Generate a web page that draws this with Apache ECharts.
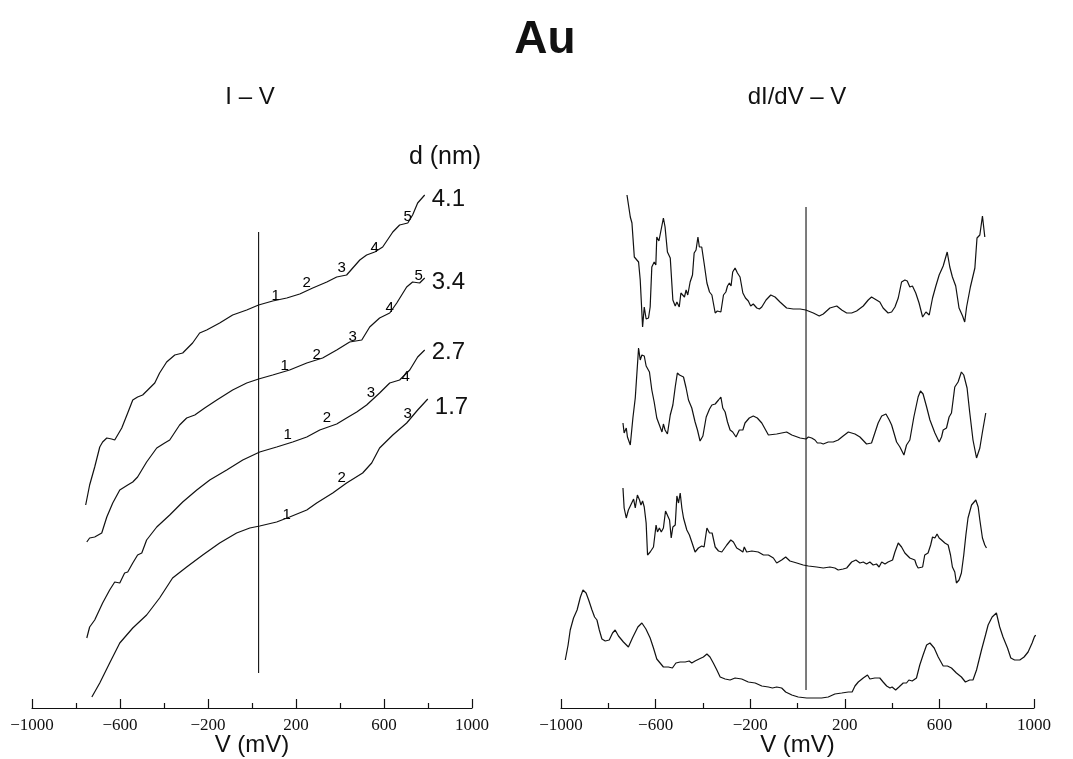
<!DOCTYPE html>
<html>
<head>
<meta charset="utf-8">
<title>Au — I-V and dI/dV-V</title>
<script src="https://cdn.jsdelivr.net/npm/echarts@6/dist/echarts.min.js"></script>
<style>
  html, body { margin: 0; padding: 0; background: #fff; }
  #chart { width: 1073px; height: 759px; }
</style>
</head>
<body>
<div id="chart"></div>
<script>
// V in mV, current / conductance in arbitrary offset units (curves are stacked)
var ivD41 = [[-756,203],[-738,223],[-715,241],[-692,261],[-679,266],[-660,270],[-638,269],[-624,268],[-592,280],[-565,295],[-542,308],[-520,311],[-497,313],[-474,318],[-442,325],[-420,335],[-388,346],[-351,353],[-315,355],[-270,365],[-238,375],[-206,378],[-147,385],[-88,393],[-24,398],[30,403],[94,407],[158,410],[217,414],[276,420],[340,426],[385,431],[430,433],[490,448],[521,453],[558,456],[594,461],[640,476],[671,483],[708,485],[730,493],[753,505],[785,513]];
var ivD34 = [[-751,166],[-738,170],[-715,171],[-683,175],[-660,191],[-633,205],[-601,218],[-565,223],[-542,226],[-520,231],[-479,246],[-433,260],[-397,265],[-374,268],[-329,283],[-297,290],[-260,293],[-215,300],[-160,308],[-88,318],[-24,325],[30,329],[94,333],[171,338],[249,345],[321,350],[385,358],[444,366],[499,368],[535,381],[580,390],[626,395],[658,405],[703,421],[730,426],[762,425],[785,430]];
var ivD27 = [[-751,70],[-738,81],[-715,88],[-679,105],[-647,118],[-624,126],[-601,125],[-579,135],[-565,136],[-542,145],[-520,153],[-501,155],[-479,168],[-433,181],[-374,193],[-315,206],[-251,218],[-192,228],[-115,238],[-42,248],[35,256],[112,261],[185,266],[249,271],[308,278],[385,284],[430,290],[476,296],[521,303],[580,315],[626,325],[671,328],[717,338],[753,351],[785,358]];
var ivD17 = [[-728,11],[-692,25],[-647,45],[-601,65],[-542,80],[-479,93],[-420,110],[-361,130],[-297,141],[-224,153],[-147,165],[-70,175],[-10,180],[35,182],[112,186],[171,191],[249,198],[294,205],[367,215],[430,225],[503,235],[544,245],[580,260],[640,273],[703,285],[753,298],[799,309]];

// numbered features marked along each I-V curve: [V, level, label]
var peaksD41 = [[108,412,'1'],[249,425,'2'],[408,440,'3'],[558,460,'4'],[708,491,'5']];
var peaksD34 = [[149,342,'1'],[294,353,'2'],[458,371,'3'],[626,400,'4'],[758,432,'5']];
var peaksD27 = [[162,273,'1'],[340,290,'2'],[540,315,'3'],[699,331,'4']];
var peaksD17 = [[158,193,'1'],[408,230,'2'],[708,294,'3']];
var gapLabels = ['4.1', '3.4', '2.7', '1.7'];

var didvD41 = [[-721,513],[-707,491],[-700,485],[-690,451],[-672,446],[-665,428],[-655,381],[-648,401],[-640,389],[-630,390],[-623,401],[-616,441],[-606,446],[-599,443],[-595,471],[-586,467],[-581,468],[-567,490],[-560,481],[-550,456],[-538,450],[-527,408],[-517,402],[-510,406],[-500,401],[-493,415],[-486,417],[-478,411],[-471,418],[-464,413],[-454,426],[-444,433],[-437,455],[-429,458],[-421,471],[-415,461],[-405,461],[-395,445],[-383,425],[-372,416],[-362,413],[-348,395],[-339,397],[-324,396],[-313,413],[-303,416],[-296,422],[-288,425],[-281,422],[-274,436],[-264,440],[-254,435],[-243,431],[-231,415],[-220,410],[-208,407],[-198,402],[-187,404],[-172,400],[-161,399],[-151,401],[-133,408],[-113,413],[-95,411],[-74,406],[-46,400],[-18,399],[11,399],[35,398],[67,395],[92,392],[109,394],[137,400],[166,402],[187,398],[208,395],[229,395],[250,397],[278,402],[299,408],[313,411],[327,409],[334,411],[348,406],[362,400],[383,395],[398,396],[412,401],[426,410],[440,426],[454,428],[464,427],[475,421],[486,422],[500,415],[514,405],[529,391],[543,396],[557,393],[571,410],[585,422],[599,433],[616,442],[633,456],[644,441],[655,431],[669,422],[683,400],[698,392],[707,386],[715,401],[731,421],[750,440],[759,470],[771,473],[782,492],[792,471]];
var didvD34 = [[-738,285],[-733,275],[-724,280],[-719,271],[-707,263],[-696,290],[-686,310],[-679,335],[-672,360],[-665,348],[-658,353],[-648,352],[-640,342],[-626,336],[-616,318],[-606,306],[-595,290],[-584,283],[-573,276],[-567,284],[-560,278],[-550,274],[-538,293],[-527,303],[-517,321],[-508,335],[-499,333],[-482,331],[-471,320],[-461,308],[-447,300],[-433,286],[-423,278],[-412,267],[-400,272],[-386,291],[-372,299],[-362,303],[-348,304],[-334,308],[-324,311],[-316,300],[-306,296],[-296,286],[-285,278],[-274,276],[-260,271],[-246,278],[-231,278],[-222,285],[-204,290],[-187,292],[-170,290],[-151,285],[-137,279],[-123,273],[-88,274],[-46,276],[-24,273],[11,270],[36,269],[46,271],[60,270],[74,268],[84,265],[98,265],[109,264],[130,266],[151,266],[172,268],[193,272],[215,276],[243,274],[264,271],[292,264],[313,265],[327,275],[341,285],[356,292],[374,294],[388,288],[398,283],[405,283],[419,266],[433,261],[450,253],[461,263],[475,268],[492,291],[510,311],[520,317],[531,314],[546,301],[560,288],[581,275],[599,266],[609,271],[616,278],[630,280],[641,291],[651,295],[665,321],[679,326],[693,336],[703,333],[717,320],[728,296],[742,268],[757,250],[771,260],[782,276],[796,295]];
var didvD27 = [[-738,220],[-733,200],[-724,190],[-715,198],[-707,202],[-700,200],[-693,209],[-686,200],[-677,213],[-668,208],[-662,203],[-655,207],[-648,201],[-640,185],[-634,153],[-623,156],[-609,161],[-598,183],[-592,176],[-584,180],[-576,176],[-567,180],[-558,197],[-550,196],[-541,188],[-534,170],[-527,181],[-517,183],[-510,212],[-503,205],[-496,215],[-489,200],[-482,190],[-475,191],[-468,178],[-457,173],[-447,166],[-433,156],[-419,160],[-405,162],[-395,161],[-383,180],[-372,175],[-361,175],[-348,161],[-334,157],[-320,156],[-299,163],[-282,168],[-271,166],[-257,160],[-243,158],[-231,156],[-225,161],[-215,156],[-193,157],[-166,156],[-144,153],[-123,153],[-102,150],[-88,145],[-67,148],[-50,151],[-32,147],[-3,145],[24,143],[46,142],[81,141],[109,140],[137,141],[158,140],[172,138],[193,139],[208,140],[229,146],[247,148],[264,145],[278,146],[292,144],[306,146],[320,143],[334,144],[345,141],[356,146],[370,144],[383,146],[402,148],[412,156],[426,165],[440,161],[454,155],[475,150],[496,148],[503,143],[510,140],[529,141],[538,153],[552,155],[563,163],[571,171],[581,170],[590,174],[599,170],[609,168],[623,165],[637,163],[647,153],[655,141],[665,136],[672,125],[683,128],[693,135],[703,153],[712,173],[721,190],[728,191],[736,203],[742,201],[754,208],[764,201],[771,188],[782,170],[792,163],[799,160]];
var didvD17 = [[-982,48],[-970,63],[-961,78],[-947,90],[-932,98],[-918,111],[-907,118],[-894,115],[-883,108],[-869,98],[-858,91],[-848,88],[-838,78],[-827,69],[-813,67],[-796,68],[-782,75],[-771,78],[-757,72],[-736,66],[-715,61],[-698,70],[-675,81],[-658,85],[-641,79],[-623,70],[-609,60],[-595,49],[-581,45],[-567,41],[-546,41],[-529,40],[-514,45],[-496,46],[-475,46],[-458,47],[-447,45],[-433,47],[-416,49],[-398,51],[-383,54],[-370,51],[-356,45],[-341,38],[-327,31],[-306,29],[-285,28],[-264,30],[-236,29],[-208,26],[-179,25],[-151,22],[-123,21],[-106,20],[-88,21],[-67,20],[-50,16],[-24,13],[3,11],[39,10],[74,10],[102,10],[130,11],[158,14],[187,15],[215,16],[231,16],[243,22],[257,26],[278,30],[296,33],[306,29],[327,30],[348,30],[362,26],[377,22],[391,20],[400,21],[415,18],[429,21],[447,25],[461,25],[471,28],[485,27],[503,30],[517,43],[531,53],[546,63],[560,65],[578,60],[595,51],[616,42],[634,42],[651,40],[672,35],[693,31],[710,26],[728,28],[742,28],[757,38],[778,58],[795,73],[806,83],[823,91],[841,95],[855,81],[869,71],[888,60],[902,50],[918,48],[940,48],[958,51],[975,56],[992,65],[1003,72],[1014,73],[1024,81],[1038,86],[1045,89]];

// zero-bias reference lines (drawn slightly right of the 0 tick in the original)
var zeroLineIV = [[30,35],[30,476]];
var zeroLineDIDV = [[36,18],[36,501]];

var INK = '#111';
var SANS = '"Liberation Sans", Arial, Helvetica, sans-serif';
var SERIF = '"Liberation Serif", "Times New Roman", serif';

function xAxisFor(gridIndex) {
  return {
    gridIndex: gridIndex, type: 'value', min: -1000, max: 1000, interval: 400,
    name: 'V (mV)', nameLocation: 'middle', nameGap: 25, nameMoveOverlap: false,
    nameTextStyle: { color: INK, fontSize: 24, fontFamily: SANS },
    axisLine: { onZero: false, lineStyle: { color: INK, width: 1.2 } },
    axisTick: { inside: true, length: 9, lineStyle: { color: INK, width: 1.2 } },
    minorTick: { show: true, splitNumber: 2, length: 5, lineStyle: { color: INK, width: 1.2 } },
    splitLine: { show: false },
    axisLabel: {
      color: INK, fontSize: 17, fontFamily: SERIF, margin: 9,
      formatter: function (v) { return String(v).replace('-', '\u2212'); }
    }
  };
}
function yAxisFor(gridIndex) {
  return { gridIndex: gridIndex, type: 'value', min: 0, max: 608, show: false };
}

function curve(data, idx, endText, dy) {
  var s = {
    type: 'line', xAxisIndex: idx, yAxisIndex: idx, data: data,
    symbol: 'none', clip: false, silent: true,
    lineStyle: { color: INK, width: 1.2 }
  };
  if (endText) {
    s.endLabel = { show: true, formatter: endText, color: INK, fontSize: 24, fontFamily: SANS,
      distance: 7, offset: [0, dy || 0] };
  }
  return s;
}
function peakLabels(data) {
  return {
    type: 'scatter', xAxisIndex: 0, yAxisIndex: 0, data: data, symbolSize: 1, silent: true,
    itemStyle: { color: 'rgba(0,0,0,0)', opacity: 1 },
    label: { show: true, position: 'inside', color: '#000', fontSize: 15, fontFamily: SANS,
      textBorderWidth: 0, formatter: function (p) { return p.data[2]; } }
  };
}
function zeroLine(data, idx) {
  return { type: 'line', xAxisIndex: idx, yAxisIndex: idx, data: data, symbol: 'none', silent: true,
    lineStyle: { color: INK, width: 1.1 } };
}
function caption(text, x, y, size, weight) {
  return { type: 'text', x: x, y: y, silent: true,
    style: { text: text, fill: INK, fontSize: size, fontWeight: weight || 'normal', fontFamily: SANS,
      textAlign: 'center', textVerticalAlign: 'middle' } };
}

var chart = echarts.init(document.getElementById('chart'));
chart.setOption({
  animation: false,
  backgroundColor: '#fff',
  grid: [
    { left: 32, right: 601, top: 100, bottom: 51, containLabel: false, outerBoundsMode: 'none' },
    { left: 561, right: 39, top: 100, bottom: 51, containLabel: false, outerBoundsMode: 'none' }
  ],
  xAxis: [xAxisFor(0), xAxisFor(1)],
  yAxis: [yAxisFor(0), yAxisFor(1)],
  graphic: [
    caption('Au', 545, 40, 46, 'bold'),
    caption('I \u2013 V', 250, 97, 24),
    caption('dI/dV \u2013 V', 797, 97, 24),
    caption('d (nm)', 445, 157, 25)
  ],
  series: [
    curve(ivD41, 0, gapLabels[0], 4),
    curve(ivD34, 0, gapLabels[1], 4),
    curve(ivD27, 0, gapLabels[2], 2),
    curve(ivD17, 0, gapLabels[3], 8),
    peakLabels(peaksD41), peakLabels(peaksD34), peakLabels(peaksD27), peakLabels(peaksD17),
    zeroLine(zeroLineIV, 0),
    curve(didvD41, 1), curve(didvD34, 1), curve(didvD27, 1), curve(didvD17, 1),
    zeroLine(zeroLineDIDV, 1)
  ]
});
</script>
</body>
</html>
